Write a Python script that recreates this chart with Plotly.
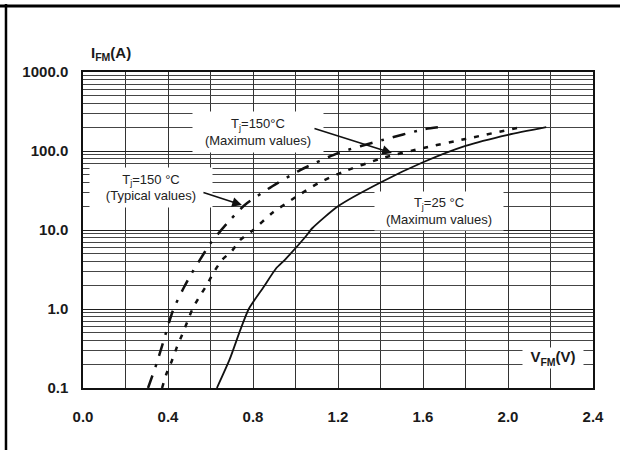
import plotly.graph_objects as go

# ---- data ----
v_25max = [0.63, 0.69, 0.74, 0.78, 0.85, 0.91, 0.95, 1.045, 1.08, 1.2, 1.4, 1.6, 1.8, 2.0, 2.18]
i_25max = [0.1, 0.23, 0.54, 1.0, 1.9, 3.3, 4.2, 8.1, 10.6, 20, 40, 72, 116, 160, 200]

v_150typ = [0.306, 0.348, 0.376, 0.424, 0.471, 0.512, 0.535, 0.60, 0.68, 0.76, 0.87, 1.02, 1.2, 1.41, 1.61, 1.67]
i_150typ = [0.1, 0.21, 0.37, 0.97, 1.79, 2.86, 3.6, 6.8, 12.3, 20.6, 33, 57, 94, 138, 190, 200]

v_150max = [0.372, 0.394, 0.418, 0.442, 0.466, 0.49, 0.515, 0.547, 0.582, 0.613, 0.655, 0.70, 0.74,
            0.795, 0.89, 1.0, 1.106, 1.22, 1.41, 1.6, 1.8, 2.06]
i_150max = [0.1, 0.155, 0.22, 0.33, 0.47, 0.68, 1.0, 1.42, 2.0, 2.85, 4.2, 5.4, 7.5,
            9.7, 16.4, 26, 39, 54, 81.5, 109, 142, 200]

x_tickvals = [0.0, 0.4, 0.8, 1.2, 1.6, 2.0, 2.4]
x_ticktext = ["0.0", "0.4", "0.8", "1.2", "1.6", "2.0", "2.4"]
x_minor = [0.2, 0.6, 1.0, 1.4, 1.8, 2.2]
y_tickvals = [0.1, 1, 10, 100, 1000]
y_ticktext = ["0.1", "1.0", "10.0", "100.0", "1000.0"]
y_minor = [m * d for d in [0.1, 1, 10, 100] for m in [2, 3, 4, 5, 6, 7, 8, 9]]

FONT = "Liberation Sans, Arial, sans-serif"
INK = "#111111"

fig = go.Figure()
fig.add_trace(go.Scatter(x=v_25max, y=i_25max, mode="lines",
                         line=dict(color=INK, width=1.8, shape="spline", smoothing=0.6)))
fig.add_trace(go.Scatter(x=v_150typ, y=i_150typ, mode="lines",
                         line=dict(color=INK, width=2.5, dash="13px,9px,3px,9px",
                                   shape="spline", smoothing=0.6)))
fig.add_trace(go.Scatter(x=v_150max, y=i_150max, mode="lines",
                         line=dict(color=INK, width=2.5, dash="5px,8px",
                                   shape="spline", smoothing=0.6)))

fig.update_layout(
    width=620, height=450, autosize=False,
    margin=dict(l=83, r=27, t=72, b=62),
    paper_bgcolor="white", plot_bgcolor="white",
    showlegend=False,
    font=dict(family=FONT, color=INK),
)

fig.update_xaxes(
    range=[0, 2.4], tickmode="array", tickvals=x_tickvals, ticktext=x_ticktext,
    showgrid=True, gridcolor="#333333", gridwidth=1,
    minor=dict(tickmode="array", tickvals=x_minor, showgrid=True, gridcolor="#333333", gridwidth=1, ticks=""),
    showline=True, mirror=True, linecolor=INK, linewidth=1.5,
    ticks="", zeroline=False, ticklabelstandoff=14,
    tickfont=dict(family=FONT, size=15, weight="bold", color="#1a1a1a"),
)
fig.update_yaxes(
    type="log", range=[-1, 3], tickmode="array", tickvals=y_tickvals, ticktext=y_ticktext,
    showgrid=True, gridcolor="#1e1e1e", gridwidth=1.3,
    minor=dict(tickmode="array", tickvals=y_minor, showgrid=True, gridcolor="#454545", gridwidth=1, ticks=""),
    showline=True, mirror=True, linecolor=INK, linewidth=1.5,
    ticks="", zeroline=False, ticklabelstandoff=10,
    tickfont=dict(family=FONT, size=15, weight="bold", color="#1a1a1a"),
)

label_font = dict(family=FONT, size=13, color="#222222")

# label boxes (white background hides grid)
fig.add_annotation(x=0.824, y=2.241, xref="x", yref="y", showarrow=False,
                   text="T<sub>j</sub>=150°C<br>(Maximum values)", font=label_font,
                   bgcolor="white", width=130, height=40, borderpad=0)
fig.add_annotation(x=0.32, y=1.538, xref="x", yref="y", showarrow=False,
                   text="T<sub>j</sub>=150 °C<br>(Typical values)", font=label_font,
                   bgcolor="white", width=122, height=39, borderpad=0)
fig.add_annotation(x=1.675, y=1.241, xref="x", yref="y", showarrow=False,
                   text="T<sub>j</sub>=25 °C<br>(Maximum values)", font=label_font,
                   bgcolor="white", width=128, height=38, borderpad=0)
fig.add_annotation(x=2.21, y=-0.62, xref="x", yref="y", showarrow=False,
                   text="<b>V<sub>FM</sub>(V)</b>", font=dict(family=FONT, size=15, color="#1a1a1a"),
                   bgcolor="white", width=60, height=20, borderpad=0)

# arrows
fig.add_annotation(x=1.454, y=1.975, xref="x", yref="y", text="", showarrow=True,
                   ax=-79, ay=-25, arrowhead=2, arrowsize=1.3, arrowwidth=1.5,
                   arrowcolor=INK, standoff=0)
fig.add_annotation(x=0.748, y=1.316, xref="x", yref="y", text="", showarrow=True,
                   ax=-40, ay=-13, arrowhead=2, arrowsize=1.3, arrowwidth=1.5,
                   arrowcolor=INK, standoff=0)

# axis title for current
fig.add_annotation(x=0.055, y=1.060, xref="paper", yref="paper", showarrow=False,
                   text="<b>I<sub>FM</sub>(A)</b>", font=dict(family=FONT, size=15, color="#1a1a1a"),
                   xanchor="center", yanchor="middle")

# page frame lines (datasheet border)
fig.add_shape(type="line", xref="paper", yref="paper", x0=-0.2, x1=1.1, y0=1.2089, y1=1.2089,
              line=dict(color="black", width=3))
fig.add_shape(type="line", xref="paper", yref="paper", x0=-0.151, x1=-0.151, y0=1.215, y1=-0.25,
              line=dict(color="black", width=2.5))

fig.write_html("out.html", config={"displayModeBar": False},
               post_script="document.body.style.margin='0';")
